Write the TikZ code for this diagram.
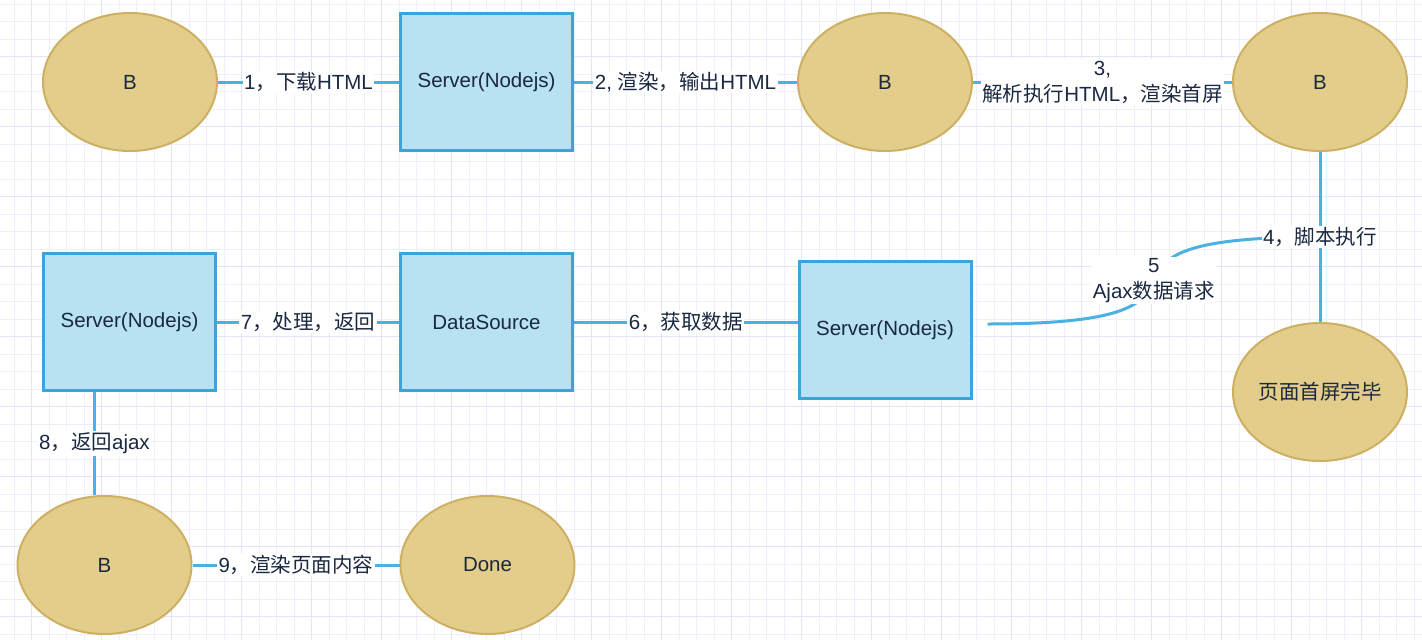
\documentclass[tikz,border=0pt]{standalone}
\usepackage{fontspec}
\setmainfont{Liberation Sans}
\newfontfamily\cjk{Noto Sans CJK SC}
\newcommand\zh[1]{{\cjk #1}}
\usetikzlibrary{shapes.geometric}
\definecolor{gridminor}{HTML}{EFEFFB}
\definecolor{gridmajor}{HTML}{E4E4F7}
\definecolor{ellfill}{HTML}{E3CD8A}
\definecolor{elldraw}{HTML}{CDB063}
\definecolor{recfill}{HTML}{B8E1F1}
\definecolor{recdraw}{HTML}{3EA3D8}
\definecolor{linec}{HTML}{4CB0E2}
\definecolor{txt}{HTML}{1A2840}
\tikzset{
  base/.style={font=\fontsize{20.5}{26}\selectfont, text=txt},
  oval/.style={base, ellipse, draw=elldraw, fill=ellfill, line width=2pt, minimum width=174pt, minimum height=138pt, inner sep=0pt},
  box/.style={base, rectangle, draw=recdraw, fill=recfill, line width=3pt, minimum width=172pt, minimum height=137pt, inner sep=0pt},
  conn/.style={draw=linec, line width=3pt},
  lbl/.style={base, fill=white, inner sep=1.5pt, align=center},
}
\begin{document}
\begin{tikzpicture}[x=1pt,y=-1pt]
\useasboundingbox (0,0) rectangle (1422,640);
\fill[white] (0,0) rectangle (1422,640);
% grid
\foreach \i in {0,...,81} {\draw[gridminor, line width=1pt] ({14+17.5*\i},0) -- ({14+17.5*\i},640);}
\foreach \j in {0,...,36} {\draw[gridminor, line width=1pt] (0,{4.2+17.5*\j}) -- (1422,{4.2+17.5*\j});}
\foreach \i in {0,...,20} {\draw[gridmajor, line width=1pt] ({31.7+70*\i},0) -- ({31.7+70*\i},640);}
\foreach \j in {0,...,8} {\draw[gridmajor, line width=1pt] (0,{56.7+70*\j}) -- (1422,{56.7+70*\j});}
% nodes
\node[oval] (b1) at (130,82) {B};
\node[box] (s1) at (486.5,82) {Server(Nodejs)};
\node[oval] (b2) at (885,82) {B};
\node[oval] (b3) at (1320,82) {B};
\node[oval] (pg) at (1320,392) {\zh{页面首屏完毕}};
\node[box] (s2) at (885,330) {Server(Nodejs)};
\node[box] (ds) at (486.5,322) {DataSource};
\node[box] (s3) at (129.5,322) {Server(Nodejs)};
\node[oval] (b4) at (104.5,565) {B};
\node[oval] (dn) at (487.5,565) {Done};
% connectors
\draw[conn] (b1.east) -- node[lbl] (l1) {1\zh{，下载}HTML} (s1.west);
\draw[conn] (s1.east) -- node[lbl] (l2) {2, \zh{渲染，输出}HTML} (b2.west);
\draw[conn] (b2.east) -- node[lbl] (l3) {3,\\\zh{解析执行}HTML\zh{，渲染首屏}} (b3.west);
\path (b3.south) -- coordinate[pos=0.5] (m4) (pg.north);
\coordinate (c5) at ([xshift=15pt,yshift=6pt]s2.east);
\draw[conn] (c5) .. controls +(290,0) and +(-290,0) .. node[lbl] (l5) {5\\Ajax\zh{数据请求}} (m4);
\draw[conn] (b3.south) -- node[lbl] (l4) {4\zh{，脚本执行}} (pg.north);
\draw[conn] (ds.east) -- node[lbl] (l6) {6\zh{，获取数据}} (ds.east -| s2.west);
\draw[conn] (s3.east) -- node[lbl] (l7) {7\zh{，处理，返回}} (ds.west);
\draw[conn] ([xshift=-35pt]s3.south) -- node[lbl] (l8) {8\zh{，返回}ajax} ([xshift=-35pt]s3.south |- b4.north);
\draw[conn] (b4.east) -- node[lbl] (l9) {9\zh{，渲染页面内容}} (dn.west);
\end{tikzpicture}
\end{document}
